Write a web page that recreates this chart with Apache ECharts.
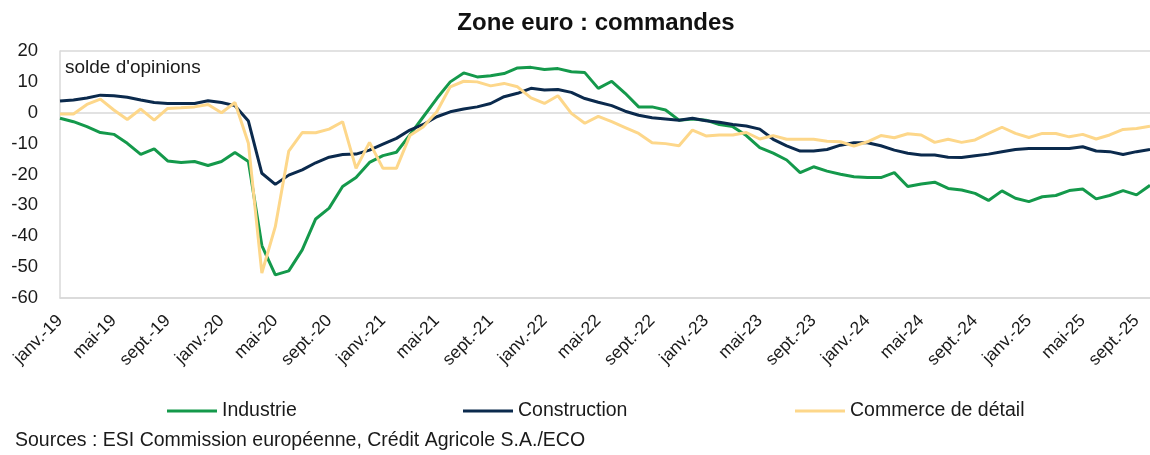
<!DOCTYPE html>
<html>
<head>
<meta charset="utf-8">
<script src="https://cdn.jsdelivr.net/npm/echarts@6/dist/echarts.min.js"></script>
<style>
  html, body { margin: 0; padding: 0; background: #fff; }
  #chart { width: 1150px; height: 455px; }
</style>
</head>
<body>
<div id="chart"></div>
<script>
// mois / années pour l'axe des catégories (janv.-19 -> oct.-25)
const monthNames = ['janv.', 'févr.', 'mars', 'avr.', 'mai', 'juin', 'juil.', 'août', 'sept.', 'oct.', 'nov.', 'déc.']
const years = ['19', '20', '21', '22', '23', '24', '25']
const nbMonths = 82

const categories = []
for (let i = 0; i < nbMonths; i++) {
  categories.push(monthNames[i % 12] + '-' + years[Math.floor(i / 12)])
}

const industrie = [
  -1.8, -2.9, -4.5, -6.4, -7.0, -9.9, -13.5, -11.7, -15.6, -16.1, -15.8, -17.1,
  -15.8, -12.9, -15.8, -43.0, -52.5, -51.2, -44.4, -34.4, -30.9, -23.9, -21.0, -16.1,
  -13.9, -12.8, -7.2, -1.3, 4.6, 10.0, 12.9, 11.6, 12.0, 12.7, 14.5, 14.7,
  14.0, 14.3, 13.3, 13.0, 7.9, 10.2, 6.3, 1.9, 1.9, 0.9, -2.4, -2.0,
  -2.4, -3.8, -4.5, -7.4, -11.3, -13.1, -15.3, -19.4, -17.5, -18.9, -19.9, -20.7,
  -21.0, -21.0, -19.4, -23.9, -23.1, -22.5, -24.5, -25.0, -26.1, -28.4, -25.3, -27.7,
  -28.8, -27.2, -26.8, -25.2, -24.7, -27.9, -26.8, -25.2, -26.6, -23.5
]

const construction = [
  3.8, 4.1, 4.8, 5.7, 5.5, 5.0, 4.1, 3.3, 3.0, 3.0, 3.0, 3.9,
  3.3, 2.3, -2.7, -19.6, -23.2, -20.2, -18.5, -16.2, -14.4, -13.5, -13.4, -12.1,
  -10.2, -8.3, -5.6, -3.8, -1.3, 0.3, 1.2, 1.9, 3.0, 5.2, 6.3, 7.9,
  7.4, 7.5, 6.6, 4.6, 3.4, 2.3, 0.5, -0.8, -1.6, -2.0, -2.4, -1.8,
  -2.6, -3.1, -3.8, -4.3, -5.3, -8.6, -10.7, -12.4, -12.4, -11.9, -10.5, -9.7,
  -9.7, -10.7, -12.1, -13.1, -13.7, -13.7, -14.4, -14.5, -13.9, -13.4, -12.6, -11.9,
  -11.6, -11.6, -11.6, -11.6, -11.0, -12.4, -12.6, -13.5, -12.6, -11.9
]

const commerce = [
  -0.4, -0.4, 2.7, 4.4, 0.9, -2.2, 1.2, -2.4, 1.4, 1.6, 1.9, 2.7,
  0.0, 3.3, -9.9, -51.9, -36.9, -12.4, -6.4, -6.5, -5.3, -2.9, -18.0, -9.6,
  -18.0, -18.0, -7.4, -4.5, 0.3, 8.4, 10.2, 10.0, 8.7, 9.5, 8.4, 4.8,
  3.0, 5.5, -0.2, -3.4, -1.2, -2.9, -4.8, -6.7, -9.7, -10.0, -10.7, -5.6,
  -7.5, -7.2, -7.2, -6.4, -8.5, -7.4, -8.6, -8.6, -8.6, -9.2, -9.4, -10.8,
  -9.4, -7.4, -8.1, -6.8, -7.2, -9.6, -8.6, -9.6, -8.8, -6.7, -4.7, -6.7,
  -8.0, -6.7, -6.7, -7.8, -7.0, -8.5, -7.2, -5.4, -5.1, -4.4
]

const FONT = '"Liberation Sans", Arial, sans-serif'
const GREEN = '#14994b'
const NAVY = '#0b2a4d'
const YELLOW = '#fdd78a'
const BORDER = '#d9d9d9'
const CLEAR = 'rgba(0,0,0,0)'

const chart = echarts.init(document.getElementById('chart'))

const legendBase = {
  top: 396,
  icon: 'rect',
  itemWidth: 50,
  itemHeight: 3,
  itemGap: 4,
  textStyle: { color: '#1a1a1a', fontSize: 19.5, fontFamily: FONT }
}

chart.setOption({
  animation: false,
  textStyle: { fontFamily: FONT },
  title: {
    text: 'Zone euro : commandes',
    left: 591,
    textAlign: 'center',
    top: 6,
    textStyle: { fontSize: 24, fontWeight: 'bold', color: '#111', fontFamily: FONT }
  },
  graphic: [
    {
      type: 'text',
      left: 65,
      top: 58,
      style: { text: "solde d'opinions", fontSize: 19, fill: '#1a1a1a', fontFamily: FONT }
    },
    {
      type: 'text',
      left: 15,
      top: 431,
      style: {
        text: 'Sources : ESI Commission européenne, Crédit Agricole S.A./ECO',
        fontSize: 19.5,
        fill: '#1a1a1a',
        fontFamily: FONT
      }
    }
  ],
  legend: [
    Object.assign({}, legendBase, { left: 162, data: ['Industrie'] }),
    Object.assign({}, legendBase, { left: 458, data: ['Construction'] }),
    Object.assign({}, legendBase, { left: 790, data: ['Commerce de détail'] })
  ],
  grid: {
    left: 60,
    right: -4,
    top: 51,
    bottom: 157
  },
  xAxis: {
    type: 'category',
    data: categories,
    boundaryGap: false,
    axisLine: { show: true, onZero: false, lineStyle: { color: BORDER, width: 1.5 } },
    axisTick: { show: false },
    splitLine: { show: false },
    axisLabel: {
      interval: 3,
      rotate: 45,
      margin: 20,
      color: '#1a1a1a',
      fontSize: 17.5,
      fontFamily: FONT
    }
  },
  yAxis: {
    type: 'value',
    min: -60,
    max: 20,
    interval: 10,
    axisLine: { show: true, lineStyle: { color: BORDER, width: 1.5 } },
    axisTick: { show: false },
    splitLine: {
      show: true,
      lineStyle: {
        width: 1.5,
        // seules les lignes -60, 0 et 20 sont visibles
        color: [BORDER, CLEAR, CLEAR, CLEAR, CLEAR, CLEAR, BORDER, CLEAR, BORDER]
      }
    },
    axisLabel: {
      margin: 22,
      color: '#1a1a1a',
      fontSize: 18.5,
      fontFamily: FONT
    }
  },
  series: [
    {
      name: 'Industrie',
      type: 'line',
      data: industrie,
      symbol: 'none',
      color: GREEN,
      lineStyle: { width: 3, color: GREEN },
      z: 3
    },
    {
      name: 'Construction',
      type: 'line',
      data: construction,
      symbol: 'none',
      color: NAVY,
      lineStyle: { width: 3, color: NAVY },
      z: 4
    },
    {
      name: 'Commerce de détail',
      type: 'line',
      data: commerce,
      symbol: 'none',
      color: YELLOW,
      lineStyle: { width: 3, color: YELLOW },
      z: 5
    }
  ]
})
</script>
</body>
</html>
